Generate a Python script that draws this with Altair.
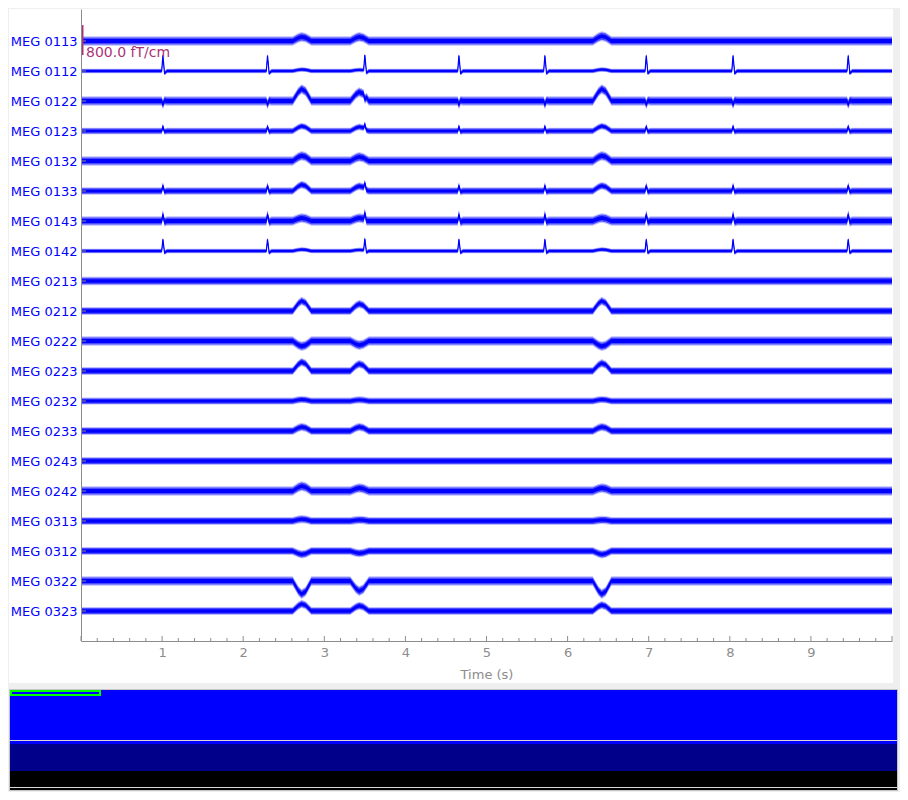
import altair as alt
import numpy as np
import pandas as pd

# ---------------- data ----------------
channels = ["MEG 0113", "MEG 0112", "MEG 0122", "MEG 0123", "MEG 0132",
            "MEG 0133", "MEG 0143", "MEG 0142", "MEG 0213", "MEG 0212",
            "MEG 0222", "MEG 0223", "MEG 0232", "MEG 0233", "MEG 0243",
            "MEG 0242", "MEG 0313", "MEG 0312", "MEG 0322", "MEG 0323"]

# typical half-width of the noise band of each trace (fT/cm)
noise_fT = [95, 45, 95, 65, 95, 75, 95, 45, 85, 80,
            95, 80, 70, 80, 80, 95, 80, 80, 95, 80]

# slow evoked deflections (fT/cm) at three event times (s)
event_times = [2.72, 3.43, 6.42]
event_amp_fT = [
    [110, 110, 130],   # 0113
    [40, 30, 40],      # 0112
    [320, 240, 320],   # 0122
    [130, 110, 130],   # 0123
    [140, 110, 140],   # 0132
    [170, 130, 140],   # 0133
    [80, 80, 80],      # 0143
    [40, 30, 40],      # 0142
    [0, 0, 0],         # 0213
    [270, 190, 270],   # 0212
    [-140, -110, -140],  # 0222
    [240, 190, 210],   # 0223
    [40, 30, 40],      # 0232
    [110, 110, 110],   # 0233
    [0, 0, 0],         # 0243
    [130, 80, 80],     # 0242
    [50, 30, 30],      # 0313
    [-90, -60, -90],   # 0312
    [-350, -270, -350],  # 0322
    [190, 140, 160],   # 0323
]

# sharp cardiac spikes (fT/cm) at these times (s)
spike_times = [1.01, 2.30, 3.50, 4.66, 5.72, 6.97, 8.04, 9.46]
spike_amp_fT = [0, 410, -90, 110, 0, 140, 170, 310, 0, 0,
                0, 0, 0, 0, 0, 0, 0, 0, 0, 0]

# shapes of one deflection / one spike
bump_dt = [-0.11, -0.04, 0.0, 0.05, 0.12]
bump_shape = [0.0, 0.75, 1.0, 0.8, 0.0]
spike_dt = [-0.015, 0.0, 0.02, 0.05]
spike_shape = [0.0, 1.0, -0.15, 0.0]

scale_fT = 800.0          # one channel spacing
scalebar_label = "800.0 fT/cm"
major_ticks = [0, 1, 2, 3, 4, 5, 6, 7, 8, 9, 10]
minor_ticks = [round(k * 0.2, 1) for k in range(1, 50) if k % 5]

# ---------------- build the traces ----------------
rows = []
for i, name in enumerate(channels):
    comps = []
    for te, a in zip(event_times, event_amp_fT[i]):
        if a:
            comps.append(([te + d for d in bump_dt], [a * s for s in bump_shape]))
    if spike_amp_fT[i]:
        for ts in spike_times:
            comps.append(([ts + d for d in spike_dt],
                          [spike_amp_fT[i] * s for s in spike_shape]))
    ts_all = sorted(set([0.0, 10.0] + [t for c in comps for t in c[0]]))
    for t in ts_all:
        v = sum(np.interp(t, ct, cv, left=0.0, right=0.0) for ct, cv in comps)
        h = noise_fT[i]
        rows.append(dict(ch=name, t=t,
                         c=i - v / scale_fT,
                         hi3=i - (v + 1.35 * h) / scale_fT,
                         lo3=i - (v - 1.35 * h) / scale_fT,
                         hi=i - (v + h) / scale_fT,
                         lo=i - (v - h) / scale_fT,
                         hi2=i - (v + 0.55 * h) / scale_fT,
                         lo2=i - (v - 0.55 * h) / scale_fT))
traces = pd.DataFrame(rows)

W, H = 811, 632
GRAY = "#8c8c8c"
xs = alt.Scale(domain=[0, 10], nice=False, zero=False)
ys = alt.Scale(domain=[-1.0667, 20], reverse=True, nice=False, zero=False)
one = pd.DataFrame({"a": [0]})

label_expr = "[" + ",".join("'%s'" % n for n in channels) + "][datum.value]"
x_axis = alt.Axis(values=list(range(1, 10)), title="Time (s)", tickSize=0,
                  ticks=False, labelPadding=5, titlePadding=9, grid=False,
                  labelColor=GRAY, titleColor=GRAY,
                  labelFontSize=13, titleFontSize=13,
                  titleFontWeight="normal", domainColor=GRAY, zindex=1)
y_axis = alt.Axis(values=list(range(20)), labelExpr=label_expr, title=None,
                  tickSize=0, ticks=False, labelPadding=4, grid=False,
                  labelColor="#0000ff", labelFontSize=13,
                  domainColor=GRAY, zindex=1)


def box(x1, x2, y1, y2, **kw):
    return alt.Chart(one).mark_rect(**kw).encode(
        x=alt.value(x1), x2=alt.value(x2), y=alt.value(y1), y2=alt.value(y2))


panel = box(-72, 812, 0, 674, color="white")
ov_border = box(-72, 817, 680, 782, color="#c4c4c4")
ov_blue = box(-71, 816, 681, 731, color="#0000ff")
ov_sep1 = box(-71, 816, 731, 732, color="#d8d8d8")
ov_blue2 = box(-71, 816, 732, 735, color="#0000ff")
ov_navy = box(-71, 816, 735, 762, color="#00008b")
ov_black = box(-71, 816, 762, 778, color="#000000")
ov_sep2 = box(-71, 816, 778, 779, color="#d8d8d8")
ov_black2 = box(-71, 816, 779, 781, color="#000000")
ov_view = alt.Chart(one).mark_rect(fillOpacity=0, stroke="#00ff00", strokeWidth=2).encode(
    x=alt.value(-70), x2=alt.value(19), y=alt.value(682), y2=alt.value(686))


def area(hi, lo, op):
    return alt.Chart(traces).mark_area(color="#0000ff", opacity=op, interpolate="linear").encode(
        x=alt.X("t:Q", scale=xs, axis=x_axis),
        y=alt.Y(hi + ":Q", scale=ys, axis=y_axis),
        y2=lo + ":Q",
        detail="ch:N",
    )


outer = area("hi3", "lo3", 0.25)
band = area("hi", "lo", 0.6)
core = area("hi2", "lo2", 1.0)
line = alt.Chart(traces).mark_line(color="#0000ff", strokeWidth=1.2).encode(
    x=alt.X("t:Q", scale=xs, axis=x_axis),
    y=alt.Y("c:Q", scale=ys, axis=y_axis),
    detail="ch:N",
)

ytick_df = pd.DataFrame({"i": list(range(20))})
yticks = alt.Chart(ytick_df).mark_rule(color=GRAY, strokeWidth=1).encode(
    y=alt.Y("i:Q", scale=ys, axis=y_axis), x=alt.value(0), x2=alt.value(5))

maj = alt.Chart(pd.DataFrame({"t": major_ticks})).mark_rule(color=GRAY).encode(
    x=alt.X("t:Q", scale=xs, axis=x_axis), y=alt.value(H - 5), y2=alt.value(H))
mnr = alt.Chart(pd.DataFrame({"t": minor_ticks})).mark_rule(color=GRAY).encode(
    x=alt.X("t:Q", scale=xs, axis=x_axis), y=alt.value(H - 3), y2=alt.value(H))

# scale bar: one channel spacing (800 fT/cm) centred on the first channel
sb_df = pd.DataFrame({"y1": [-0.53], "y2": [0.47]})
scalebar = alt.Chart(sb_df).mark_rect(color="#AA3377").encode(
    x=alt.value(0), x2=alt.value(2.5),
    y=alt.Y("y1:Q", scale=ys, axis=y_axis), y2="y2:Q")
sb_text = alt.Chart(one).mark_text(color="#AA3377", fontSize=14, align="left",
                                   baseline="alphabetic").encode(
    x=alt.value(5), y=alt.value(48), text=alt.value(scalebar_label))

chart = alt.layer(
    panel, ov_border, ov_blue, ov_sep1, ov_blue2, ov_navy, ov_black, ov_sep2,
    ov_black2, ov_view, outer, band, core, line, yticks, maj, mnr, scalebar, sb_text
).properties(
    width=W, height=H,
    autosize=alt.AutoSizeParams(type="none"),
    padding={"left": 73, "top": 1, "right": 8, "bottom": 151},
    background="#efefef",
).configure_view(stroke=None).configure(font="DejaVu Sans")

chart.save("out.html", embed_options={"renderer": "svg", "actions": False})
